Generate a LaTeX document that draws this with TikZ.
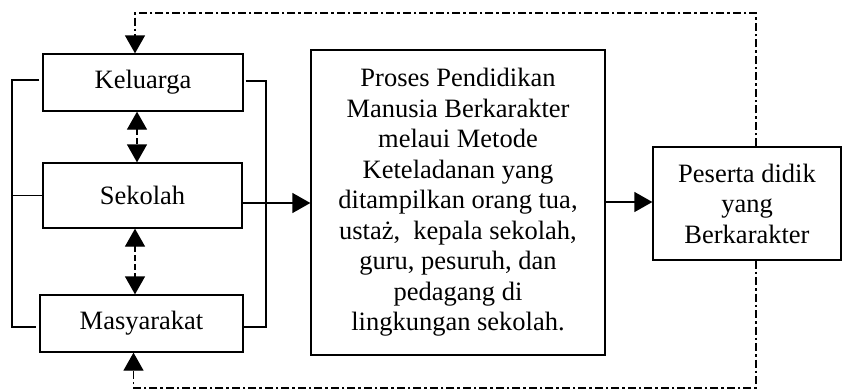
\documentclass[tikz,border=0pt]{standalone}
\usepackage{fontspec}
\setmainfont{Liberation Serif}
\usetikzlibrary{arrows.meta}
\begin{document}
\begin{tikzpicture}[x=1pt,y=-1pt,
  font=\fontsize{26.5}{30.5}\selectfont,
  line width=1.3pt,
  >={Triangle[length=18pt,width=20pt]},
  box/.style={draw, fill=white, align=center, inner sep=0pt},
  loopline/.style={dash pattern=on 8pt off 3pt on 2.5pt off 3pt},
  linkline/.style={dash pattern=on 6pt off 3pt}]
\useasboundingbox (0,0) rectangle (842,391);

% the three environments
\node[box, minimum width=200pt, minimum height=57pt] (kel) at (143,82.5) {Keluarga};
\node[box, minimum width=199pt, minimum height=65pt] (sek) at (142.5,195.5) {Sekolah};
\node[box, minimum width=203pt, minimum height=57pt] (mas) at (141.5,323.5) {Masyarakat};

% process and outcome
\node[box, minimum width=294pt, minimum height=305pt] (pro) at (458,202.5)
  {Proses Pendidikan\\Manusia Berkarakter\\melaui Metode\\Keteladanan yang\\ditampilkan orang tua,\\ustaż,~ kepala sekolah,\\guru, pesuruh, dan\\pedagang di\\lingkungan sekolah.};
\node[box, minimum width=188pt, minimum height=113pt] (pes) at (747,203.5)
  {Peserta didik\\yang\\Berkarakter};

% helper coordinates for the brackets and the feedback loop
\coordinate (lb) at (12,0);
\coordinate (rb) at (266,0);
\coordinate (rx) at (756,0);
\coordinate (ty) at (0,13);
\coordinate (by) at (0,388);
\coordinate (ax) at (137,0);
\coordinate (bx) at (135,0);

% left bracket
\draw ([xshift=-3pt]kel.west |- 0,80) -| (lb |- 0,327) -- ([xshift=-3pt]mas.west |- 0,327);
\draw (sek.west) -- (lb |- sek.west);
% right bracket
\draw ([xshift=2pt]kel.east |- 0,81) -| (rb |- 0,327) -- (mas.east |- 0,327);

% main flow
\draw[->] (sek.east |- 0,203) -- (pro.west |- 0,203);
\draw[->] (pro.east |- 0,202) -- (pes.west |- 0,202);

% links between the environments
\draw[linkline,<->] (ax |- kel.south) -- (ax |- sek.north);
\draw[linkline,<->] (bx |- sek.south) -- (bx |- mas.north);

% feedback loop
\draw[loopline,->] (rx |- pes.north) -- (rx |- ty) -| (bx |- kel.north);
\draw[loopline,->] (rx |- pes.south) -- (rx |- by) -| ([xshift=-1.5pt]bx |- mas.south);
\end{tikzpicture}
\end{document}
